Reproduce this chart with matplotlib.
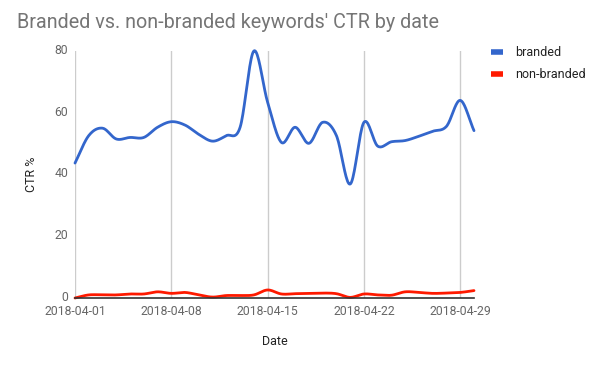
import numpy as np
import matplotlib
matplotlib.use("Agg")
import matplotlib.pyplot as plt
import matplotlib.dates as mdates
import matplotlib.transforms as mtransforms
import datetime as dt

plt.rcParams['font.family'] = ['Roboto', 'DejaVu Sans']

dates = [dt.date(2018, 4, d) for d in range(1, 31)]
branded = [43.7, 52.6, 55.0, 51.5, 52.0, 52.0, 55.3, 57.1, 56.0, 53.0,
           50.8, 52.6, 55.3, 80.0, 63.4, 50.4, 55.3, 50.1, 56.9, 52.6,
           36.9, 56.9, 49.2, 50.6, 51.0, 52.4, 54.0, 55.6, 64.0, 54.2]
non_branded = [0.0, 1.0, 1.0, 1.0, 1.3, 1.3, 2.0, 1.5, 1.8, 1.0,
               0.3, 0.8, 0.8, 1.0, 2.6, 1.3, 1.4, 1.5, 1.6, 1.4,
               0.2, 1.3, 1.0, 0.9, 2.0, 1.8, 1.5, 1.6, 1.8, 2.4]
tick_dates = [dt.date(2018, 4, d) for d in (1, 8, 15, 22, 29)]
y_ticks = [0, 20, 40, 60, 80]


def smooth(xs, ys, n=20):
    """Catmull-Rom rendering of the daily series (display only)."""
    xs = np.asarray(xs, float)
    ys = np.asarray(ys, float)
    px = np.concatenate([[2 * xs[0] - xs[1]], xs, [2 * xs[-1] - xs[-2]]])
    py = np.concatenate([[2 * ys[0] - ys[1]], ys, [2 * ys[-1] - ys[-2]]])
    ox, oy = [], []
    t = np.linspace(0, 1, n, endpoint=False)
    for i in range(1, len(px) - 2):
        for arr, out in ((px, ox), (py, oy)):
            p0, p1, p2, p3 = arr[i - 1], arr[i], arr[i + 1], arr[i + 2]
            out.extend(0.5 * ((2 * p1) + (-p0 + p2) * t +
                              (2 * p0 - 5 * p1 + 4 * p2 - p3) * t ** 2 +
                              (-p0 + 3 * p1 - 3 * p2 + p3) * t ** 3))
    ox.append(xs[-1])
    oy.append(ys[-1])
    return np.array(ox), np.array(oy)


xnum = mdates.date2num(dates)

fig = plt.figure(figsize=(5.93, 3.65), dpi=100)
ax = fig.add_axes([75 / 593, 67 / 365, 399 / 593, 247 / 365])

sx, sy = smooth(xnum, branded)
ax.plot(sx, sy, color='#3366CC', lw=2.0, label='branded', solid_capstyle='round', clip_on=False)
sx, sy = smooth(xnum, non_branded)
ax.plot(sx, sy, color='#FF1A00', lw=2.0, label='non-branded', solid_capstyle='round', clip_on=False)

ax.set_xlim(xnum[0], xnum[-1])
ax.set_ylim(0, 80)
ax.set_xticks(mdates.date2num(tick_dates))
ax.set_xticklabels([d.strftime('%Y-%m-%d') for d in tick_dates])
ax.set_yticks(y_ticks)
ax.set_yticklabels([str(v) for v in y_ticks])
ax.tick_params(axis='both', length=0, labelsize=8.8, labelcolor='#666666')
ax.tick_params(axis='x', pad=5)
ax.tick_params(axis='y', pad=5)
ax.grid(axis='x', color='#CCCCCC', lw=1)
ax.set_axisbelow(True)
for s in ('top', 'right', 'left'):
    ax.spines[s].set_visible(False)
ax.spines['bottom'].set_color('#333333')
ax.spines['bottom'].set_linewidth(1.2)
ax.spines['bottom'].set_zorder(5)

# nudge y tick labels up slightly so "0" clears the date labels
shift = mtransforms.ScaledTranslation(0, 1.5 / 72, fig.dpi_scale_trans)
for lbl in ax.get_yticklabels():
    lbl.set_transform(lbl.get_transform() + shift)

ax.set_xlabel('Date', fontsize=9, color='#222222', labelpad=12)
ax.set_ylabel('CTR %', fontsize=9, color='#222222', labelpad=12)

fig.text(17 / 593, 1 - 23 / 365, "Branded vs. non-branded keywords' CTR by date",
         fontsize=14.2, color='#757575', va='center', ha='left')

leg = ax.legend(loc='upper left', bbox_to_anchor=(486 / 593, 1 - 41 / 365),
                bbox_transform=fig.transFigure, frameon=False, fontsize=9,
                handlelength=1.0, handletextpad=0.9, labelspacing=0.75,
                borderaxespad=0)
for t in leg.get_texts():
    t.set_color('#222222')
for h in leg.get_lines():
    h.set_linewidth(4)
    h.set_solid_capstyle('butt')

fig.savefig('out.png', dpi=100)
